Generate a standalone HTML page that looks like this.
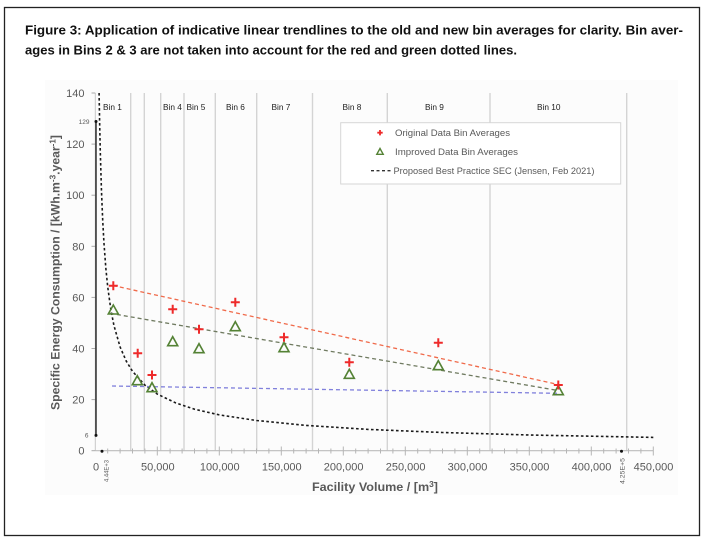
<!DOCTYPE html>
<html>
<head>
<meta charset="utf-8">
<style>
  html,body{margin:0;padding:0;background:#fff;}
  svg{display:block;}
  text{font-family:"Liberation Sans",sans-serif;}
</style>
</head>
<body>
<svg width="705" height="540" viewBox="0 0 705 540" xmlns="http://www.w3.org/2000/svg">
  <rect x="0" y="0" width="705" height="540" fill="#fff"/>
  <!-- outer frame -->
  <rect x="4.5" y="7.5" width="695" height="528" fill="none" stroke="#222" stroke-width="1.3"/>

  <!-- caption -->
  <text x="25" y="34.5" font-size="13" font-weight="bold" fill="#111" textLength="658" lengthAdjust="spacingAndGlyphs">Figure 3: Application of indicative linear trendlines to the old and new bin averages for clarity. Bin aver-</text>
  <text x="25" y="54.5" font-size="13" font-weight="bold" fill="#111" textLength="492" lengthAdjust="spacingAndGlyphs">ages in Bins 2 &amp; 3 are not taken into account for the red and green dotted lines.</text>

  <!-- chart image background -->
  <rect x="45" y="80" width="633" height="415" fill="#fcfcfc"/>

  <!-- bin boundary lines -->
  <g stroke="#d4d4d4" stroke-width="1.4">
    <line x1="130.7" y1="93" x2="130.7" y2="451"/>
    <line x1="144.3" y1="93" x2="144.3" y2="451"/>
    <line x1="160.7" y1="93" x2="160.7" y2="451"/>
    <line x1="184" y1="93" x2="184" y2="451"/>
    <line x1="215.3" y1="93" x2="215.3" y2="451"/>
    <line x1="256.7" y1="93" x2="256.7" y2="451"/>
    <line x1="312.5" y1="93" x2="312.5" y2="451"/>
    <line x1="387.3" y1="93" x2="387.3" y2="451"/>
    <line x1="490" y1="93" x2="490" y2="451"/>
    <line x1="626.7" y1="93" x2="626.7" y2="451"/>
  </g>

  <!-- bin labels -->
  <g font-size="8.3" fill="#222">
    <text x="103" y="110">Bin 1</text>
    <text x="163" y="110">Bin 4</text>
    <text x="186.5" y="110">Bin 5</text>
    <text x="226" y="110">Bin 6</text>
    <text x="271.5" y="110">Bin 7</text>
    <text x="342.5" y="110">Bin 8</text>
    <text x="425" y="110">Bin 9</text>
    <text x="537" y="110">Bin 10</text>
  </g>

  <!-- axes -->
  <line x1="95.3" y1="93" x2="95.3" y2="451" stroke="#c8c8c8" stroke-width="1"/>
  <line x1="95.3" y1="450.7" x2="653.3" y2="450.7" stroke="#bdbdbd" stroke-width="1.2"/>
  <!-- y ticks -->
  <g stroke="#aaa" stroke-width="1">
    <line x1="91.5" y1="93" x2="95.3" y2="93"/>
    <line x1="91.5" y1="144.1" x2="95.3" y2="144.1"/>
    <line x1="91.5" y1="195.2" x2="95.3" y2="195.2"/>
    <line x1="91.5" y1="246.3" x2="95.3" y2="246.3"/>
    <line x1="91.5" y1="297.4" x2="95.3" y2="297.4"/>
    <line x1="91.5" y1="348.5" x2="95.3" y2="348.5"/>
    <line x1="91.5" y1="399.6" x2="95.3" y2="399.6"/>
    <line x1="91.5" y1="450.7" x2="95.3" y2="450.7"/>
  </g>
  <!-- x ticks -->
  <g stroke="#b5b5b5" stroke-width="1">
    <line x1="107.7" y1="448.5" x2="107.7" y2="453.5"/><line x1="120.1" y1="448.5" x2="120.1" y2="453.5"/><line x1="132.5" y1="448.5" x2="132.5" y2="453.5"/><line x1="144.9" y1="448.5" x2="144.9" y2="453.5"/>
    <line x1="170.1" y1="448.5" x2="170.1" y2="453.5"/><line x1="182.1" y1="448.5" x2="182.1" y2="453.5"/><line x1="194.5" y1="448.5" x2="194.5" y2="453.5"/><line x1="206.9" y1="448.5" x2="206.9" y2="453.5"/>
    <line x1="231.7" y1="448.5" x2="231.7" y2="453.5"/><line x1="244.1" y1="448.5" x2="244.1" y2="453.5"/><line x1="256.5" y1="448.5" x2="256.5" y2="453.5"/><line x1="268.9" y1="448.5" x2="268.9" y2="453.5"/>
    <line x1="293.7" y1="448.5" x2="293.7" y2="453.5"/><line x1="306.1" y1="448.5" x2="306.1" y2="453.5"/><line x1="318.5" y1="448.5" x2="318.5" y2="453.5"/><line x1="330.9" y1="448.5" x2="330.9" y2="453.5"/>
    <line x1="355.7" y1="448.5" x2="355.7" y2="453.5"/><line x1="368.1" y1="448.5" x2="368.1" y2="453.5"/><line x1="380.5" y1="448.5" x2="380.5" y2="453.5"/><line x1="392.9" y1="448.5" x2="392.9" y2="453.5"/>
    <line x1="417.7" y1="448.5" x2="417.7" y2="453.5"/><line x1="430.1" y1="448.5" x2="430.1" y2="453.5"/><line x1="442.5" y1="448.5" x2="442.5" y2="453.5"/><line x1="454.9" y1="448.5" x2="454.9" y2="453.5"/>
    <line x1="479.7" y1="448.5" x2="479.7" y2="453.5"/><line x1="492.1" y1="448.5" x2="492.1" y2="453.5"/><line x1="504.5" y1="448.5" x2="504.5" y2="453.5"/><line x1="516.9" y1="448.5" x2="516.9" y2="453.5"/>
    <line x1="541.7" y1="448.5" x2="541.7" y2="453.5"/><line x1="554.1" y1="448.5" x2="554.1" y2="453.5"/><line x1="566.5" y1="448.5" x2="566.5" y2="453.5"/><line x1="578.9" y1="448.5" x2="578.9" y2="453.5"/>
    <line x1="603.7" y1="448.5" x2="603.7" y2="453.5"/><line x1="616.1" y1="448.5" x2="616.1" y2="453.5"/><line x1="628.5" y1="448.5" x2="628.5" y2="453.5"/><line x1="640.9" y1="448.5" x2="640.9" y2="453.5"/>
    <line x1="157.3" y1="446.5" x2="157.3" y2="455.5"/><line x1="219.3" y1="446.5" x2="219.3" y2="455.5"/><line x1="281.3" y1="446.5" x2="281.3" y2="455.5"/><line x1="343.3" y1="446.5" x2="343.3" y2="455.5"/>
    <line x1="405.3" y1="446.5" x2="405.3" y2="455.5"/><line x1="467.3" y1="446.5" x2="467.3" y2="455.5"/><line x1="529.3" y1="446.5" x2="529.3" y2="455.5"/><line x1="591.3" y1="446.5" x2="591.3" y2="455.5"/><line x1="653.3" y1="446.5" x2="653.3" y2="455.5"/>
  </g>

  <!-- y tick labels -->
  <g font-size="11" fill="#595959" text-anchor="end">
    <text x="84.5" y="97">140</text>
    <text x="84.5" y="148.1">120</text>
    <text x="84.5" y="199.2">100</text>
    <text x="84.5" y="250.3">80</text>
    <text x="84.5" y="301.4">60</text>
    <text x="84.5" y="352.5">40</text>
    <text x="84.5" y="403.6">20</text>
    <text x="84.5" y="454.7">0</text>
  </g>
  <!-- x tick labels -->
  <g font-size="11" fill="#595959" text-anchor="middle">
    <text x="96" y="470.5">0</text>
    <text x="157.8" y="470.5">50,000</text>
    <text x="219.8" y="470.5">100,000</text>
    <text x="281.8" y="470.5">150,000</text>
    <text x="343.6" y="470.5">200,000</text>
    <text x="405.6" y="470.5">250,000</text>
    <text x="467.5" y="470.5">300,000</text>
    <text x="529.5" y="470.5">350,000</text>
    <text x="591.5" y="470.5">400,000</text>
    <text x="653.5" y="470.5">450,000</text>
  </g>

  <!-- axis titles -->
  <text x="375" y="491" font-size="12" font-weight="bold" fill="#595959" text-anchor="middle" textLength="126" lengthAdjust="spacingAndGlyphs">Facility Volume / [m<tspan font-size="8" dy="-4">3</tspan><tspan dy="4">]</tspan></text>
  <text transform="translate(59.5,272.5) rotate(-90)" font-size="12" font-weight="bold" fill="#595959" text-anchor="middle" textLength="275" lengthAdjust="spacingAndGlyphs">Specific Energy Consumption / [kWh.m<tspan font-size="8" dy="-4">-3</tspan><tspan dy="4">.year</tspan><tspan font-size="8" dy="-4">-1</tspan><tspan dy="4">]</tspan></text>

  <!-- min/max vertical marker line -->
  <line x1="96" y1="121.5" x2="96" y2="435.4" stroke="#111" stroke-width="1.3"/>
  <circle cx="96" cy="121.5" r="1.5" fill="#111"/>
  <circle cx="96" cy="435.4" r="1.5" fill="#111"/>
  <text x="89.5" y="124" font-size="6.5" fill="#595959" text-anchor="end">129</text>
  <text x="88.5" y="437.5" font-size="6.5" fill="#595959" text-anchor="end">6</text>
  <circle cx="102" cy="451.3" r="1.5" fill="#111"/>
  <circle cx="621.5" cy="451.3" r="1.5" fill="#111"/>
  <text transform="translate(108.5,482) rotate(-90)" font-size="6.3" fill="#595959" textLength="22" lengthAdjust="spacingAndGlyphs">4.44E+3</text>
  <text transform="translate(624.5,484) rotate(-90)" font-size="6.3" fill="#595959" textLength="26" lengthAdjust="spacingAndGlyphs">4.25E+5</text>

  <!-- Best practice curve -->
  <polyline fill="none" stroke="#1a1a1a" stroke-width="1.6" stroke-dasharray="2.6,2.4"
    points="99.09,93 99.64,122.9 100.26,150.7 101.5,191.6 102.74,221.1 103.98,243.3 105.84,268.3 107.7,286.8 110.8,309.3 113.9,325.3 120.1,347 126.3,361.2 132.5,371.3 144.9,385.1 157.3,394.1 175.9,403 194.5,409.2 219.3,414.9 256.5,420.5 306.1,425.4 368.1,429.4 442.5,432.5 529.3,435 653.3,437.4"/>

  <!-- trendlines -->
  <line x1="113" y1="285.5" x2="558" y2="384.5" stroke="#f06a4a" stroke-width="1.3" stroke-dasharray="4,3"/>
  <line x1="110" y1="313.3" x2="558" y2="390.5" stroke="#6f7a60" stroke-width="1.3" stroke-dasharray="4,3"/>
  <line x1="112" y1="386" x2="558" y2="393.3" stroke="#8080dc" stroke-width="1.3" stroke-dasharray="4,3"/>

  <!-- green triangles -->
  <g fill="none" stroke="#548235" stroke-width="1.6" stroke-linejoin="miter">
    <path d="M113.3,305 L108.3,314 L118.3,314 Z"/>
    <path d="M137.3,375.7 L132.3,384.7 L142.3,384.7 Z"/>
    <path d="M152,382.7 L147,391.7 L157,391.7 Z"/>
    <path d="M172.7,336.7 L167.7,345.7 L177.7,345.7 Z"/>
    <path d="M199,343.7 L194,352.7 L204,352.7 Z"/>
    <path d="M235.3,321.7 L230.3,330.7 L240.3,330.7 Z"/>
    <path d="M284,342.7 L279,351.7 L289,351.7 Z"/>
    <path d="M349.3,369.3 L344.3,378.3 L354.3,378.3 Z"/>
    <path d="M438.3,360.7 L433.3,369.7 L443.3,369.7 Z"/>
    <path d="M558.3,385.7 L553.3,394.7 L563.3,394.7 Z"/>
  </g>

  <!-- red pluses -->
  <g stroke="#ee2a2a" stroke-width="2">
    <path d="M108.8,285.7 h9 M113.3,281.2 v9"/>
    <path d="M133.2,353.3 h9 M137.7,348.8 v9"/>
    <path d="M147.5,375 h9 M152,370.5 v9"/>
    <path d="M168.2,309.3 h9 M172.7,304.8 v9"/>
    <path d="M194.5,329.3 h9 M199,324.8 v9"/>
    <path d="M230.8,302.3 h9 M235.3,297.8 v9"/>
    <path d="M279.5,337.3 h9 M284,332.8 v9"/>
    <path d="M344.8,362.3 h9 M349.3,357.8 v9"/>
    <path d="M433.8,342.7 h9 M438.3,338.2 v9"/>
    <path d="M553.8,385 h9 M558.3,380.5 v9"/>
  </g>

  <!-- legend -->
  <rect x="340.7" y="122.7" width="280" height="61.3" fill="#fff" stroke="#d6d6d6" stroke-width="1"/>
  <path d="M377.3,132.7 h5.4 M380,130 v5.4" stroke="#ee2a2a" stroke-width="1.8"/>
  <path d="M380,148.5 L376.8,154.3 L383.2,154.3 Z" fill="none" stroke="#548235" stroke-width="1.4"/>
  <line x1="371" y1="170.7" x2="392" y2="170.7" stroke="#333" stroke-width="1.4" stroke-dasharray="3,2.5"/>
  <g font-size="9.5" fill="#595959">
    <text x="395" y="136" textLength="115" lengthAdjust="spacingAndGlyphs">Original Data Bin Averages</text>
    <text x="395" y="155" textLength="123" lengthAdjust="spacingAndGlyphs">Improved Data Bin Averages</text>
    <text x="393.5" y="174" textLength="201" lengthAdjust="spacingAndGlyphs">Proposed Best Practice SEC (Jensen, Feb 2021)</text>
  </g>
</svg>
</body>
</html>
